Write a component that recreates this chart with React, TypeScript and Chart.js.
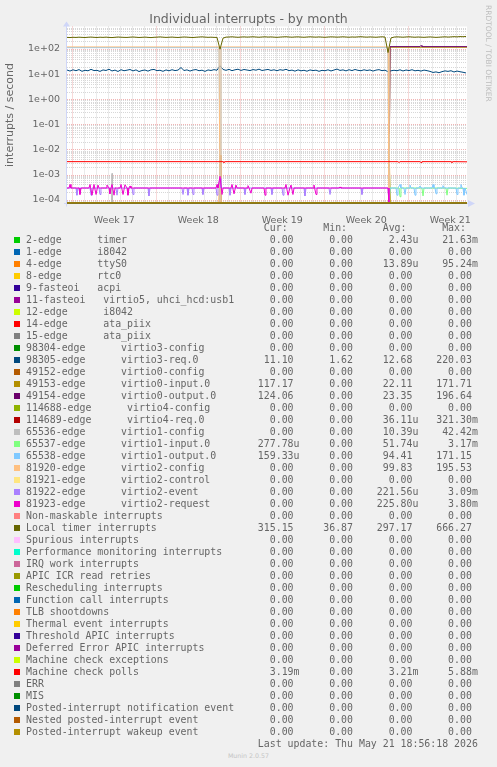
import React, { useEffect, useRef } from 'react';
import { Chart, registerables } from 'chart.js';

Chart.register(...registerables);

type Pt = [number, number];

// ---- axes ----
const X_MAX = 33.3333; // days shown (400 px * 2h)
const Y_MIN = 7.396e-5;
const Y_MAX = 785.2;
const WEEK_LABELS = ['Week 17', 'Week 18', 'Week 19', 'Week 20', 'Week 21'];
const WEEK_START_DAYS = [0.44, 7.44, 14.44, 21.44, 28.44];
const Y_TICK_VALUES = [1e-4, 1e-3, 1e-2, 1e-1, 1, 10, 100];
const Y_TICK_LABELS = ['1e-04', '1e-03', '1e-02', '1e-01', '1e+00', '1e+01', '1e+02'];
const SAMPLE_STEP_DAYS = 0.25; // 6-hour samples for the noisy series

// ---- legend ----
const seriesNames = [
  '2-edge      timer', '1-edge      i8042', '4-edge      ttyS0', '8-edge      rtc0',
  '9-fasteoi   acpi', '11-fasteoi   virtio5, uhci_hcd:usb1', '12-edge      i8042',
  '14-edge      ata_piix', '15-edge      ata_piix', '98304-edge      virtio3-config',
  '98305-edge      virtio3-req.0', '49152-edge      virtio0-config', '49153-edge      virtio0-input.0',
  '49154-edge      virtio0-output.0', '114688-edge      virtio4-config', '114689-edge      virtio4-req.0',
  '65536-edge      virtio1-config', '65537-edge      virtio1-input.0', '65538-edge      virtio1-output.0',
  '81920-edge      virtio2-config', '81921-edge      virtio2-control', '81922-edge      virtio2-event',
  '81923-edge      virtio2-request', 'Non-maskable interrupts', 'Local timer interrupts',
  'Spurious interrupts', 'Performance monitoring interrupts', 'IRQ work interrupts',
  'APIC ICR read retries', 'Rescheduling interrupts', 'Function call interrupts', 'TLB shootdowns',
  'Thermal event interrupts', 'Threshold APIC interrupts', 'Deferred Error APIC interrupts',
  'Machine check exceptions', 'Machine check polls', 'ERR', 'MIS',
  'Posted-interrupt notification event', 'Nested posted-interrupt event', 'Posted-interrupt wakeup event',
];
const seriesColors = [
  '#00CC00', '#0066B3', '#FF8000', '#FFCC00', '#330099', '#990099', '#CCFF00', '#FF0000', '#808080',
  '#008F00', '#00487D', '#B35A00', '#B38F00', '#6B006B', '#8FB300', '#B30000', '#BEBEBE', '#80FF80',
  '#80C9FF', '#FFC080', '#FFE680', '#AA80FF', '#EE00CC', '#FF8080', '#666600', '#FFBFFF', '#00FFCC',
  '#CC6699', '#999900', '#00CC00', '#0066B3', '#FF8000', '#FFCC00', '#330099', '#990099', '#CCFF00',
  '#FF0000', '#808080', '#008F00', '#00487D', '#B35A00', '#B38F00',
];
const curVals = ['0.00', '0.00', '0.00', '0.00', '0.00', '0.00', '0.00', '0.00', '0.00', '0.00', '11.10', '0.00', '117.17', '124.06', '0.00', '0.00', '0.00', '277.78u', '159.33u', '0.00', '0.00', '0.00', '0.00', '0.00', '315.15', '0.00', '0.00', '0.00', '0.00', '0.00', '0.00', '0.00', '0.00', '0.00', '0.00', '0.00', '3.19m', '0.00', '0.00', '0.00', '0.00', '0.00'];
const minVals = ['0.00', '0.00', '0.00', '0.00', '0.00', '0.00', '0.00', '0.00', '0.00', '0.00', '1.62', '0.00', '0.00', '0.00', '0.00', '0.00', '0.00', '0.00', '0.00', '0.00', '0.00', '0.00', '0.00', '0.00', '36.87', '0.00', '0.00', '0.00', '0.00', '0.00', '0.00', '0.00', '0.00', '0.00', '0.00', '0.00', '0.00', '0.00', '0.00', '0.00', '0.00', '0.00'];
const avgVals = ['2.43u', '0.00', '13.89u', '0.00', '0.00', '0.00', '0.00', '0.00', '0.00', '0.00', '12.68', '0.00', '22.11', '23.35', '0.00', '36.11u', '10.39u', '51.74u', '94.41', '99.83', '0.00', '221.56u', '225.80u', '0.00', '297.17', '0.00', '0.00', '0.00', '0.00', '0.00', '0.00', '0.00', '0.00', '0.00', '0.00', '0.00', '3.21m', '0.00', '0.00', '0.00', '0.00', '0.00'];
const maxVals = ['21.63m', '0.00', '95.24m', '0.00', '0.00', '0.00', '0.00', '0.00', '0.00', '0.00', '220.03', '0.00', '171.71', '196.64', '0.00', '321.30m', '42.42m', '3.17m', '171.15', '195.53', '0.00', '3.09m', '3.80m', '0.00', '666.27', '0.00', '0.00', '0.00', '0.00', '0.00', '0.00', '0.00', '0.00', '0.00', '0.00', '0.00', '5.88m', '0.00', '0.00', '0.00', '0.00', '0.00'];
const LAST_UPDATE = 'Last update: Thu May 21 18:56:18 2026';

// ---- series values ----
const localTimerVals = [
  290, 285, 292, 288, 295, 290, 286, 293, 298, 291,
  287, 294, 290, 296, 289, 285, 292, 299, 294, 290,
  288, 295, 300, 293, 287, 291, 297, 290, 284, 292,
  296, 302, 295, 289, 293, 298, 291, 287, 294, 300,
  296, 290, 286, 293, 299, 304, 297, 291, 295, 290,
  288, 98, 270, 296, 300, 305, 298, 292, 299, 303,
  297, 301, 306, 299, 294, 300, 305, 298, 302, 296,
  291, 298, 303, 307, 300, 295, 301, 304, 298, 293,
  299, 305, 300, 296, 302, 297, 292, 299, 304, 301,
  296, 300, 305, 299, 294, 301, 297, 303, 308, 300,
  296, 302, 298, 293, 300, 305, 299, 72, 275, 298,
  304, 300, 295, 301, 306, 299, 294, 300, 296, 291,
  297, 302, 296, 290, 295, 300, 305, 298, 303, 309,
  304, 312, 308, 315,
];
const virtio3ReqVals = [
  14.5, 13.2, 14.8, 13.6, 15.1, 12.9, 14.2, 13.5, 15.4, 13.8,
  14.1, 12.8, 14.6, 13.9, 15.6, 13.3, 14.4, 12.7, 14.9, 13.6,
  14.3, 15.2, 13.4, 14.7, 12.6, 13.9, 14.5, 13.1, 14.8, 15.3,
  13.7, 14.2, 12.9, 14.6, 13.5, 14.9, 13.8, 14.4, 18.2, 13.9,
  14.7, 13.2, 14.5, 15.1, 13.6, 14.3, 12.8, 14.6, 13.9, 15.0,
  14.2, 21.5, 15.3, 14.1, 15.4, 13.7, 14.8, 15.6, 14.0, 15.2,
  14.5, 13.8, 15.1, 14.3, 15.7, 13.9, 14.6, 15.3, 14.0, 14.8,
  13.6, 14.9, 14.2, 15.5, 13.7, 14.4, 13.1, 14.7, 13.5, 14.2,
  13.0, 14.6, 13.8, 14.3, 12.9, 14.1, 13.6, 14.8, 13.3, 14.5,
  15.8, 14.0, 14.7, 13.4, 14.9, 13.8, 15.2, 14.1, 13.6, 14.8,
  13.9, 14.6, 13.2, 14.4, 15.0, 13.7, 14.3, 12.4, 13.5, 14.2,
  13.6, 14.8, 13.3, 14.5, 13.8, 14.9, 13.5, 14.1, 13.2, 14.4,
  13.7, 12.8, 11.6, 12.2, 11.3, 12.5, 13.4, 12.8, 13.6, 12.1,
  13.2, 12.4, 11.8, 11.1,
];

// sparse [day, value] series
const ZERO: Pt[] = [[0, 0], [X_MAX, 0]];
const timerPts: Pt[] = [[0, 0], [26.75, 0], [26.83, 0.0216], [26.92, 0], [X_MAX, 0]];
const ttyS0Pts: Pt[] = [[0, 0], [12.67, 0], [12.75, 5.9e-3], [12.83, 0], [26.75, 0], [26.83, 0.0952], [26.92, 0], [X_MAX, 0]];
const virtio0InputPts: Pt[] = [[0, 0], [26.83, 0], [26.92, 117], [X_MAX, 117]];
const virtio0OutputPts: Pt[] = [[0, 0], [26.83, 0], [26.92, 124], [29.42, 124], [29.5, 138], [29.58, 124], [X_MAX, 124]];
const virtio4ReqPts: Pt[] = [[0, 0], [26.79, 0], [26.83, 0.3213], [26.88, 0], [X_MAX, 0]];
const virtio1ConfigPts: Pt[] = [[0, 0], [3.71, 0], [3.75, 1.1e-3], [3.79, 0], [12.71, 0], [12.75, 1.8e-3], [12.79, 0], [26.79, 0], [26.83, 0.0424], [26.88, 0], [X_MAX, 0]];
const virtio1InputPts: Pt[] = [[0, 0], [26.83, 0], [26.92, 2.9e-4], [27.67, 2.9e-4], [27.75, 1.3e-4], [27.83, 2.9e-4], [29.58, 2.9e-4], [29.67, 1.4e-4], [29.75, 2.9e-4], [31.58, 2.9e-4], [31.67, 1.5e-4], [31.75, 2.9e-4], [X_MAX, 2.8e-4]];
const virtio1OutputPts: Pt[] = [
  [0, 113], [12.67, 113], [12.75, 0], [12.83, 113], [26.75, 113], [26.83, 0], [26.92, 2.9e-4],
  [27.42, 2.9e-4], [27.5, 1.5e-4], [27.58, 2.9e-4], [27.75, 4.0e-4], [27.83, 2.9e-4], [28.08, 2.9e-4], [28.17, 1.6e-4],
  [28.25, 2.9e-4], [28.5, 2.9e-4], [28.58, 3.8e-4], [28.67, 2.9e-4], [28.92, 2.9e-4], [29.0, 1.5e-4], [29.08, 2.9e-4],
  [29.33, 2.9e-4], [29.42, 3.5e-4], [29.5, 2.9e-4], [30.42, 2.9e-4], [30.5, 4.0e-4], [30.58, 2.9e-4], [30.67, 2.9e-4],
  [30.75, 1.7e-4], [30.83, 2.9e-4], [31.25, 2.9e-4], [31.33, 3.6e-4], [31.42, 2.9e-4], [32.42, 2.9e-4], [32.5, 1.6e-4],
  [32.58, 2.9e-4], [32.75, 2.9e-4], [32.83, 4.0e-4], [32.92, 2.9e-4], [33.0, 2.9e-4], [33.08, 1.5e-4], [33.17, 2.9e-4],
  [X_MAX, 1.6e-4],
];
const virtio2ConfigPts: Pt[] = [[0, 121], [12.67, 121], [12.75, 0], [12.83, 121], [26.75, 121], [26.83, 0], [X_MAX, 0]];
const virtio2EventPts: Pt[] = [
  [0, 2.9e-4], [0.75, 2.9e-4], [0.83, 1.5e-4], [0.92, 2.9e-4], [1.92, 2.9e-4], [2.0, 1.5e-4], [2.08, 2.9e-4],
  [2.67, 2.9e-4], [2.75, 1.6e-4], [2.83, 2.9e-4], [4.08, 2.9e-4], [4.17, 1.5e-4], [4.25, 2.9e-4], [5.42, 2.9e-4],
  [5.5, 1.6e-4], [5.58, 2.9e-4], [6.75, 2.9e-4], [6.83, 1.4e-4], [6.92, 2.9e-4], [9.58, 2.9e-4], [9.67, 1.6e-4],
  [9.75, 2.9e-4], [10.0, 2.9e-4], [10.08, 1.5e-4], [10.17, 2.9e-4], [10.42, 2.9e-4], [10.5, 1.6e-4], [10.58, 2.9e-4],
  [11.25, 2.9e-4], [11.33, 1.6e-4], [11.42, 2.9e-4], [12.42, 2.9e-4], [12.5, 1.5e-4], [12.58, 2.9e-4], [12.75, 7.0e-4],
  [12.83, 2.9e-4], [13.5, 2.9e-4], [13.58, 1.5e-4], [13.67, 2.9e-4], [14.75, 2.9e-4], [14.83, 1.6e-4], [14.92, 2.9e-4],
  [17.0, 2.9e-4], [17.08, 1.6e-4], [17.17, 2.9e-4], [17.92, 2.9e-4], [18.0, 1.5e-4], [18.08, 2.9e-4], [19.75, 2.9e-4],
  [19.83, 1.4e-4], [19.92, 2.9e-4], [21.83, 2.9e-4], [21.92, 1.6e-4], [22.0, 2.9e-4], [24.5, 2.9e-4], [24.58, 1.6e-4],
  [24.67, 2.9e-4], [26.75, 2.9e-4], [26.83, 0], [X_MAX, 0],
];
const virtio2RequestPts: Pt[] = [
  [0, 2.9e-4], [0.17, 2.9e-4], [0.25, 4.0e-4], [0.33, 2.9e-4], [1.0, 2.9e-4], [1.08, 1.6e-4], [1.17, 2.9e-4],
  [1.83, 2.9e-4], [1.92, 4.0e-4], [2.08, 1.5e-4], [2.25, 4.0e-4], [2.42, 1.6e-4], [2.58, 3.8e-4], [2.67, 2.9e-4],
  [3.25, 2.9e-4], [3.33, 3.8e-4], [3.5, 2.9e-4], [3.58, 1.7e-4], [3.67, 2.9e-4], [3.75, 4.0e-4], [3.92, 1.5e-4],
  [4.0, 2.9e-4], [4.42, 2.9e-4], [4.5, 4.0e-4], [4.67, 1.6e-4], [4.83, 3.9e-4], [5.0, 2.9e-4], [5.08, 1.5e-4],
  [5.17, 2.9e-4], [5.25, 3.5e-4], [5.33, 2.9e-4], [12.42, 2.9e-4], [12.5, 4.0e-4], [12.58, 2.9e-4], [12.75, 8.5e-4],
  [12.92, 1.6e-4], [13.0, 2.9e-4], [13.67, 2.9e-4], [13.75, 4.0e-4], [13.92, 1.7e-4], [14.08, 3.8e-4], [14.17, 2.9e-4],
  [15.0, 2.9e-4], [15.08, 3.6e-4], [15.17, 2.9e-4], [15.33, 1.8e-4], [15.42, 2.9e-4], [16.42, 2.9e-4], [16.5, 1.5e-4],
  [16.58, 2.9e-4], [18.17, 2.9e-4], [18.25, 4.0e-4], [18.42, 1.5e-4], [18.58, 2.9e-4], [18.67, 3.8e-4], [18.83, 1.6e-4],
  [18.92, 2.9e-4], [20.5, 2.9e-4], [20.58, 3.8e-4], [20.75, 1.6e-4], [20.83, 2.9e-4], [22.67, 2.9e-4], [22.75, 3.2e-4],
  [22.83, 2.9e-4], [26.75, 2.9e-4], [26.83, 0], [X_MAX, 0],
];
const mcePollPts: Pt[] = [
  [0, 3.25e-3], [13.0, 3.25e-3], [13.08, 3.0e-3], [13.17, 3.25e-3],
  [27.58, 3.25e-3], [27.67, 3.0e-3], [27.75, 3.25e-3], [29.42, 3.25e-3], [29.5, 3.0e-3], [29.58, 3.25e-3],
  [32.0, 3.25e-3], [32.08, 3.0e-3], [32.17, 3.25e-3], [X_MAX, 3.2e-3],
];
const sampled = (vals: number[]): Pt[] => vals.map((v, i) => [i * SAMPLE_STEP_DAYS, v]);

const seriesPoints: Pt[][] = [
  timerPts, ZERO, ttyS0Pts, ZERO, ZERO, ZERO, ZERO, ZERO, ZERO, ZERO,
  sampled(virtio3ReqVals), ZERO, virtio0InputPts, virtio0OutputPts, ZERO, virtio4ReqPts,
  virtio1ConfigPts, virtio1InputPts, virtio1OutputPts, virtio2ConfigPts, ZERO, virtio2EventPts,
  virtio2RequestPts, ZERO, sampled(localTimerVals), ZERO, ZERO, ZERO, ZERO, ZERO, ZERO, ZERO,
  ZERO, ZERO, ZERO, ZERO, mcePollPts, ZERO, ZERO, ZERO, ZERO, ZERO,
];

const FONT_COLOR = '#666666';
const AXIS_COLOR = '#CFD6F8';
const GRID_COLOR = 'rgba(150,150,150,0.38)';
const MGRID_COLOR = 'rgba(225,90,90,0.45)';

const muninGrid = {
  id: 'muninGrid',
  beforeDatasetsDraw(chart: any) {
    const { ctx, chartArea: a, scales } = chart;
    const xs = scales.x;
    const ys = scales.y;
    ctx.save();
    ctx.fillStyle = '#ffffff';
    ctx.fillRect(a.left, a.top, a.right - a.left, a.bottom - a.top);
    ctx.lineWidth = 1;
    ctx.setLineDash([1, 1]);
    const hline = (y: number, c: string) => {
      ctx.strokeStyle = c;
      ctx.beginPath();
      ctx.moveTo(a.left, y);
      ctx.lineTo(a.right, y);
      ctx.stroke();
    };
    const vline = (x: number, c: string) => {
      ctx.strokeStyle = c;
      ctx.beginPath();
      ctx.moveTo(x, a.top);
      ctx.lineTo(x, a.bottom);
      ctx.stroke();
    };
    for (let e = -5; e <= 3; e++) {
      for (let m = 2; m <= 9; m++) {
        const v = m * Math.pow(10, e);
        if (v < Y_MIN || v > Y_MAX) continue;
        hline(Math.round(ys.getPixelForValue(v)) + 0.5, GRID_COLOR);
      }
    }
    WEEK_START_DAYS.forEach((w) => {
      for (let j = 1; j < 7; j++) {
        const d = w + j;
        if (d > X_MAX) continue;
        vline(Math.round(xs.getPixelForValue(d)) + 0.5, GRID_COLOR);
      }
    });
    Y_TICK_VALUES.forEach((v) => hline(Math.round(ys.getPixelForValue(v)) + 0.5, MGRID_COLOR));
    WEEK_START_DAYS.forEach((w) => vline(Math.round(xs.getPixelForValue(w)) + 0.5, MGRID_COLOR));

    // axes with arrows
    ctx.setLineDash([]);
    ctx.strokeStyle = AXIS_COLOR;
    ctx.fillStyle = AXIS_COLOR;
    ctx.beginPath();
    ctx.moveTo(a.left - 3, a.bottom);
    ctx.lineTo(a.right + 2, a.bottom);
    ctx.stroke();
    ctx.beginPath();
    ctx.moveTo(a.right + 1, a.bottom - 3.5);
    ctx.lineTo(a.right + 8, a.bottom);
    ctx.lineTo(a.right + 1, a.bottom + 3.5);
    ctx.closePath();
    ctx.fill();
    ctx.beginPath();
    ctx.moveTo(a.left - 0.5, a.bottom + 3);
    ctx.lineTo(a.left - 0.5, a.top - 1);
    ctx.stroke();
    ctx.beginPath();
    ctx.moveTo(a.left - 4, a.top);
    ctx.lineTo(a.left - 0.5, a.top - 5);
    ctx.lineTo(a.left + 3, a.top);
    ctx.closePath();
    ctx.fill();
    ctx.restore();
  },
};

const fmtField = (v: string) => (/[a-z]$/.test(v) ? v : v + ' ').padStart(10);
const HEADER = ' '.repeat(40) + 'Cur:' + ' '.repeat(6) + 'Min:' + ' '.repeat(6) + 'Avg:' + ' '.repeat(6) + 'Max:';

const LEGEND_TOP = 233.6;
const ROW_H = 12;

export default function App() {
  const ref = useRef<HTMLCanvasElement>(null);

  useEffect(() => {
    const N = seriesNames.length;
    const chart = new Chart(ref.current as HTMLCanvasElement, {
      type: 'line',
      data: {
        datasets: seriesNames.map((name, i) => ({
          label: name,
          data: seriesPoints[i].map(([x, y]) => ({ x, y: y === 0 ? Y_MIN : y })),
          borderColor: seriesColors[i],
          backgroundColor: seriesColors[i],
          borderWidth: 1,
          pointRadius: 0,
          tension: 0,
          fill: false,
          order: N - i,
          clip: { left: 0, top: 0, right: 0, bottom: 1 },
        })),
      },
      options: {
        animation: false,
        responsive: false,
        devicePixelRatio: 1,
        layout: { padding: { left: 0, right: 30, top: 26.5, bottom: 0 } },
        plugins: { legend: { display: false }, tooltip: { enabled: false } },
        scales: {
          x: {
            type: 'linear',
            min: 0,
            max: X_MAX,
            grid: { display: false },
            border: { display: false },
            afterBuildTicks: (s: any) => {
              s.ticks = WEEK_START_DAYS.map((w) => ({ value: w + 3.5 }));
            },
            afterFit: (s: any) => {
              s.height = 26.5;
            },
            ticks: {
              autoSkip: false,
              maxRotation: 0,
              padding: 3,
              color: FONT_COLOR,
              font: { family: 'DejaVu Sans', size: 9.5 },
              callback: (_v: any, i: number) => WEEK_LABELS[i],
            },
          },
          y: {
            type: 'logarithmic',
            min: Y_MIN,
            max: Y_MAX,
            grid: { display: false, drawTicks: false },
            border: { display: false },
            afterBuildTicks: (s: any) => {
              s.ticks = Y_TICK_VALUES.map((v) => ({ value: v }));
            },
            afterFit: (s: any) => {
              s.width = 67;
            },
            ticks: {
              autoSkip: false,
              padding: 7,
              color: FONT_COLOR,
              font: { family: 'DejaVu Sans', size: 9.5 },
              callback: (_v: any, i: number) => Y_TICK_LABELS[i],
            },
            title: {
              display: true,
              text: 'interrupts / second',
              color: FONT_COLOR,
              font: { family: 'DejaVu Sans', size: 11 },
              padding: { top: 4, bottom: 0 },
            },
          },
        },
      } as any,
      plugins: [muninGrid],
    });
    return () => chart.destroy();
  }, []);

  const mono: React.CSSProperties = {
    position: 'absolute',
    left: 26,
    fontFamily: '"DejaVu Sans Mono", monospace',
    fontSize: 9.9,
    lineHeight: ROW_H + 'px',
    height: ROW_H,
    whiteSpace: 'pre',
    color: FONT_COLOR,
  };

  return (
    <div style={{ position: 'absolute', left: 0, top: 0, width: 497, height: 767, background: '#f0f0f0', overflow: 'hidden' }}>
      <canvas ref={ref} width={497} height={230} style={{ position: 'absolute', left: 0, top: 0, width: 497, height: 230 }} />
      <div style={{ position: 'absolute', left: 0, top: 11.3, width: 497, textAlign: 'center', fontFamily: '"DejaVu Sans", sans-serif', fontSize: 12.5, lineHeight: '15px', color: FONT_COLOR }}>
        Individual interrupts - by month
      </div>
      <div style={{ position: 'absolute', left: 484, top: 5, writingMode: 'vertical-rl', fontFamily: '"DejaVu Sans", sans-serif', fontSize: 7.5, lineHeight: '8px', color: '#bdbdbd', whiteSpace: 'pre' }}>
        RRDTOOL / TOBI OETIKER
      </div>
      <div style={{ ...mono, top: LEGEND_TOP - ROW_H }}>{HEADER}</div>
      {seriesNames.map((name, i) => (
        <React.Fragment key={i}>
          <div style={{ position: 'absolute', left: 14, top: LEGEND_TOP + i * ROW_H + 3, width: 6, height: 6, background: seriesColors[i] }} />
          <div style={{ ...mono, top: LEGEND_TOP + i * ROW_H }}>
            {name.padEnd(36) + fmtField(curVals[i]) + fmtField(minVals[i]) + fmtField(avgVals[i]) + fmtField(maxVals[i])}
          </div>
        </React.Fragment>
      ))}
      <div style={{ ...mono, top: LEGEND_TOP + seriesNames.length * ROW_H }}>{' '.repeat(39) + LAST_UPDATE}</div>
      <div style={{ position: 'absolute', left: 0, top: 752, width: 497, textAlign: 'center', fontFamily: '"DejaVu Sans", sans-serif', fontSize: 6.3, lineHeight: '8px', color: '#c4c4c4' }}>
        Munin 2.0.57
      </div>
    </div>
  );
}
